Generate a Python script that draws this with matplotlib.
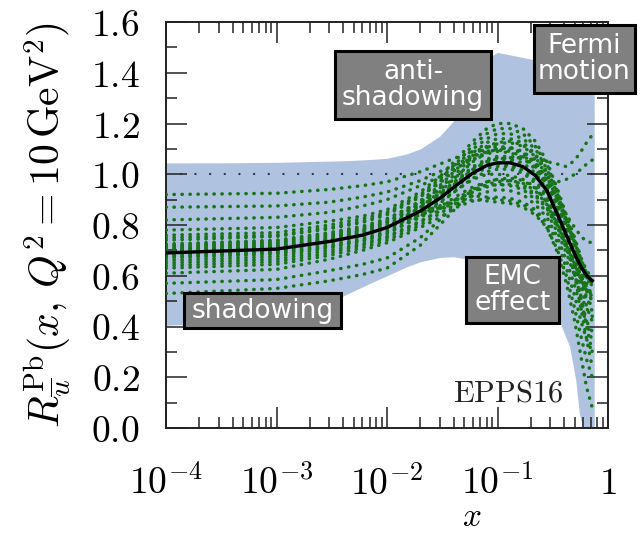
import matplotlib
matplotlib.use('Agg')
import matplotlib.pyplot as plt
from matplotlib.patches import Rectangle
from matplotlib.ticker import LogLocator, MultipleLocator, NullFormatter

plt.rcParams['mathtext.fontset'] = 'cm'

# x nodes shared by the central fit and the error sets
cx = [1e-4, 1e-3, 3e-3, 6e-3, 1e-2, 2e-2, 3e-2, 4.5e-2, 6e-2, 8e-2, 0.1,
      0.13, 0.17, 0.22, 0.28, 0.35, 0.42, 0.5, 0.57, 0.64, 0.72]
central = [0.69, 0.705, 0.735, 0.76, 0.79, 0.855, 0.905, 0.965, 1.005, 1.035, 1.045,
           1.045, 1.03, 0.995, 0.935, 0.84, 0.76, 0.685, 0.635, 0.60, 0.58]

err_sets = [
    [0.92, 0.925, 0.94, 0.955, 0.97, 1.01, 1.04, 1.07, 1.09, 1.105, 1.11, 1.105, 1.085, 1.04, 0.97, 0.88, 0.80, 0.72, 0.66, 0.61, 0.58],
    [0.87, 0.875, 0.89, 0.91, 0.93, 0.975, 1.01, 1.045, 1.07, 1.09, 1.095, 1.09, 1.07, 1.03, 0.96, 0.87, 0.79, 0.70, 0.63, 0.57, 0.52],
    [0.82, 0.83, 0.85, 0.875, 0.90, 0.955, 0.99, 1.03, 1.06, 1.08, 1.09, 1.085, 1.065, 1.02, 0.955, 0.865, 0.785, 0.705, 0.65, 0.60, 0.56],
    [0.53, 0.55, 0.58, 0.605, 0.63, 0.72, 0.80, 0.88, 0.93, 0.96, 0.97, 0.975, 0.965, 0.935, 0.88, 0.80, 0.72, 0.645, 0.585, 0.54, 0.50],
    [0.57, 0.585, 0.62, 0.645, 0.67, 0.75, 0.82, 0.895, 0.94, 0.97, 0.98, 0.985, 0.975, 0.945, 0.89, 0.81, 0.73, 0.66, 0.60, 0.555, 0.52],
    [0.78, 0.79, 0.815, 0.835, 0.86, 0.93, 0.99, 1.07, 1.13, 1.18, 1.20, 1.20, 1.18, 1.13, 1.05, 0.94, 0.84, 0.75, 0.67, 0.615, 0.58],
    [0.76, 0.77, 0.80, 0.825, 0.85, 0.92, 0.98, 1.055, 1.115, 1.16, 1.18, 1.18, 1.16, 1.11, 1.04, 0.93, 0.83, 0.74, 0.66, 0.605, 0.57],
    [0.74, 0.755, 0.785, 0.81, 0.84, 0.91, 0.97, 1.045, 1.10, 1.14, 1.16, 1.16, 1.14, 1.10, 1.02, 0.92, 0.82, 0.73, 0.65, 0.595, 0.56],
    [0.72, 0.735, 0.765, 0.79, 0.82, 0.895, 0.955, 1.03, 1.085, 1.125, 1.14, 1.14, 1.125, 1.08, 1.01, 0.91, 0.82, 0.74, 0.67, 0.62, 0.59],
    [0.705, 0.72, 0.75, 0.78, 0.81, 0.885, 0.945, 1.015, 1.07, 1.105, 1.12, 1.125, 1.11, 1.07, 0.99, 0.90, 0.81, 0.73, 0.665, 0.61, 0.58],
    [0.68, 0.695, 0.73, 0.76, 0.79, 0.87, 0.93, 1.00, 1.055, 1.09, 1.10, 1.105, 1.09, 1.05, 0.98, 0.89, 0.80, 0.72, 0.655, 0.60, 0.57],
    [0.75, 0.76, 0.79, 0.815, 0.845, 0.915, 0.965, 1.03, 1.075, 1.11, 1.125, 1.13, 1.115, 1.075, 1.00, 0.90, 0.80, 0.71, 0.635, 0.59, 0.56],
    [0.725, 0.74, 0.77, 0.795, 0.825, 0.89, 0.94, 1.00, 1.05, 1.085, 1.10, 1.10, 1.085, 1.045, 0.975, 0.875, 0.78, 0.69, 0.61, 0.55, 0.50],
    [0.67, 0.685, 0.715, 0.74, 0.77, 0.83, 0.87, 0.92, 0.95, 0.97, 0.98, 0.975, 0.96, 0.92, 0.87, 0.79, 0.71, 0.63, 0.56, 0.51, 0.48],
    [0.65, 0.665, 0.70, 0.725, 0.755, 0.815, 0.855, 0.905, 0.93, 0.95, 0.96, 0.955, 0.94, 0.90, 0.85, 0.77, 0.69, 0.60, 0.52, 0.47, 0.44],
    [0.64, 0.655, 0.69, 0.72, 0.75, 0.81, 0.86, 0.91, 0.94, 0.955, 0.96, 0.96, 0.95, 0.915, 0.865, 0.79, 0.715, 0.64, 0.58, 0.54, 0.52],
    [0.63, 0.645, 0.68, 0.71, 0.74, 0.80, 0.845, 0.89, 0.915, 0.93, 0.94, 0.935, 0.92, 0.88, 0.83, 0.75, 0.66, 0.56, 0.47, 0.42, 0.38],
    [0.61, 0.625, 0.665, 0.70, 0.73, 0.79, 0.83, 0.875, 0.895, 0.905, 0.91, 0.905, 0.89, 0.86, 0.81, 0.73, 0.63, 0.52, 0.42, 0.35, 0.30],
    [0.695, 0.71, 0.74, 0.765, 0.79, 0.84, 0.865, 0.89, 0.90, 0.895, 0.89, 0.885, 0.87, 0.84, 0.79, 0.70, 0.60, 0.47, 0.36, 0.27, 0.20],
    [0.70, 0.715, 0.745, 0.775, 0.80, 0.85, 0.875, 0.905, 0.915, 0.91, 0.90, 0.895, 0.88, 0.85, 0.79, 0.69, 0.57, 0.42, 0.28, 0.16, 0.08],
    [0.69, 0.705, 0.735, 0.76, 0.79, 0.86, 0.91, 0.975, 1.02, 1.05, 1.06, 1.065, 1.065, 1.06, 1.05, 1.04, 1.03, 1.055, 1.09, 1.125, 1.155],
    [0.70, 0.715, 0.745, 0.77, 0.80, 0.87, 0.915, 0.975, 1.01, 1.035, 1.04, 1.035, 1.02, 1.00, 0.975, 0.97, 0.98, 1.00, 1.02, 1.04, 1.056],
    [0.715, 0.73, 0.76, 0.785, 0.815, 0.88, 0.925, 0.985, 1.03, 1.06, 1.07, 1.07, 1.06, 1.03, 0.97, 0.90, 0.84, 0.79, 0.755, 0.735, 0.73],
    [0.675, 0.69, 0.72, 0.745, 0.775, 0.845, 0.89, 0.945, 0.98, 1.00, 1.00, 0.995, 0.98, 0.95, 0.89, 0.80, 0.71, 0.61, 0.51, 0.42, 0.34],
    [0.66, 0.675, 0.71, 0.735, 0.765, 0.835, 0.885, 0.945, 0.985, 1.01, 1.02, 1.02, 1.005, 0.965, 0.905, 0.815, 0.73, 0.64, 0.56, 0.48, 0.42],
    [0.685, 0.70, 0.73, 0.755, 0.785, 0.855, 0.90, 0.96, 1.00, 1.025, 1.03, 1.03, 1.015, 0.975, 0.915, 0.825, 0.745, 0.665, 0.59, 0.515, 0.46],
    [0.695, 0.71, 0.74, 0.77, 0.795, 0.865, 0.915, 0.975, 1.015, 1.045, 1.06, 1.055, 1.035, 0.995, 0.93, 0.83, 0.73, 0.60, 0.47, 0.35, 0.24],
    [0.71, 0.725, 0.755, 0.78, 0.81, 0.875, 0.92, 0.98, 1.025, 1.055, 1.065, 1.06, 1.045, 1.005, 0.94, 0.845, 0.75, 0.63, 0.51, 0.40, 0.30],
]

# uncertainty band
band_x = [1e-4, 3e-4, 1e-3, 2e-3, 4e-3, 7e-3, 1e-2, 1.5e-2, 2e-2, 3e-2, 4e-2, 5e-2, 6e-2,
          7.5e-2, 0.1, 0.15, 0.22, 0.3, 0.36, 0.45, 0.51, 0.55, 0.59, 0.65, 0.75]
band_upper = [1.045, 1.045, 1.047, 1.05, 1.053, 1.058, 1.063, 1.08, 1.10, 1.15, 1.21, 1.31, 1.39,
              1.45, 1.48, 1.465, 1.45, 1.44, 1.43, 1.42, 1.41, 1.40, 1.39, 1.38, 1.36]
band_lower = [0.405, 0.415, 0.44, 0.47, 0.52, 0.57, 0.60, 0.635, 0.655, 0.672, 0.675, 0.668, 0.662,
              0.657, 0.652, 0.64, 0.60, 0.52, 0.425, 0.32, 0.19, 0.06, 0.0, 0.0, 0.0]

xticks = [1e-4, 1e-3, 1e-2, 1e-1, 1]
xticklabels = [r'$10^{-4}$', r'$10^{-3}$', r'$10^{-2}$', r'$10^{-1}$', r'$1$']
yticks = [0.0, 0.2, 0.4, 0.6, 0.8, 1.0, 1.2, 1.4, 1.6]

# label boxes in pixels: text, x0, y0, x1, y1 (y measured from top)
boxes = [
    ('anti-\nshadowing', 335, 51, 491, 119),
    ('Fermi\nmotion', 534, 25, 635, 93),
    ('shadowing', 184, 293, 341, 328),
    ('EMC\neffect', 466, 257, 559, 323),
]

W, H = 641, 533
fig = plt.figure(figsize=(W / 100, H / 100), dpi=100)
ax = fig.add_axes([166 / W, 105 / H, 442 / W, 406 / H])

ax.fill_between(band_x, band_lower, band_upper, color='#afc3e0', lw=0, zorder=1)
ax.axhline(1.0, color='#2b3050', lw=1.6, linestyle=(0, (0.1, 6.5)),
           dash_capstyle='round', zorder=2)
for s in err_sets:
    ax.plot(cx, s, color='#187418', lw=2.5, linestyle=(0, (0.1, 2.2)),
            dash_capstyle='round', zorder=3)
ax.plot(cx, central, color='black', lw=2.4, zorder=4)

ax.set_xscale('log')
ax.set_xlim(1e-4, 1)
ax.set_ylim(0, 1.6)
ax.set_xticks(xticks)
ax.set_xticklabels(xticklabels)
ax.xaxis.set_minor_locator(LogLocator(base=10, subs=range(2, 10), numticks=20))
ax.xaxis.set_minor_formatter(NullFormatter())
ax.set_yticks(yticks)
ax.set_yticklabels([f'${v:.1f}$' for v in yticks])
ax.yaxis.set_minor_locator(MultipleLocator(0.1))

ax.tick_params(which='both', direction='in', top=True, right=True, color='#222222')
ax.tick_params(which='major', length=15, width=1.1)
ax.tick_params(which='minor', length=8, width=1.1)
ax.tick_params(axis='y', labelsize=27, pad=19)
ax.tick_params(axis='x', labelsize=27, pad=27)
for sp in ax.spines.values():
    sp.set_linewidth(1.4)
    sp.set_color('#222222')

fig.text(472 / W, 1 - 517 / H, r'$x$', fontsize=24, ha='center', va='center')
ax.set_ylabel(r'$R^{\mathrm{Pb}}_{\overline{u}}(x,\, Q^2 = 10\,\mathrm{GeV}^2)$',
              fontsize=30, va='center')
ax.yaxis.set_label_coords(-0.27, 0.5)

for text, x0, y0, x1, y1 in boxes:
    rect = Rectangle((x0 / W, 1 - y1 / H), (x1 - x0) / W, (y1 - y0) / H,
                     transform=fig.transFigure, facecolor='#808080',
                     edgecolor='black', lw=2.2, zorder=10, clip_on=False)
    fig.patches.append(rect)
    fig.text((x0 + x1) / 2 / W, 1 - (y0 + y1) / 2 / H, text, color='white',
             fontsize=19, ha='center', va='center', linespacing=1.0, zorder=11)

ax.text(508 / W, 1 - 393 / H, r'$\mathrm{EPPS16}$', transform=fig.transFigure,
        fontsize=22, ha='center', va='center', color='#222222')

fig.savefig('out.png', dpi=100)
